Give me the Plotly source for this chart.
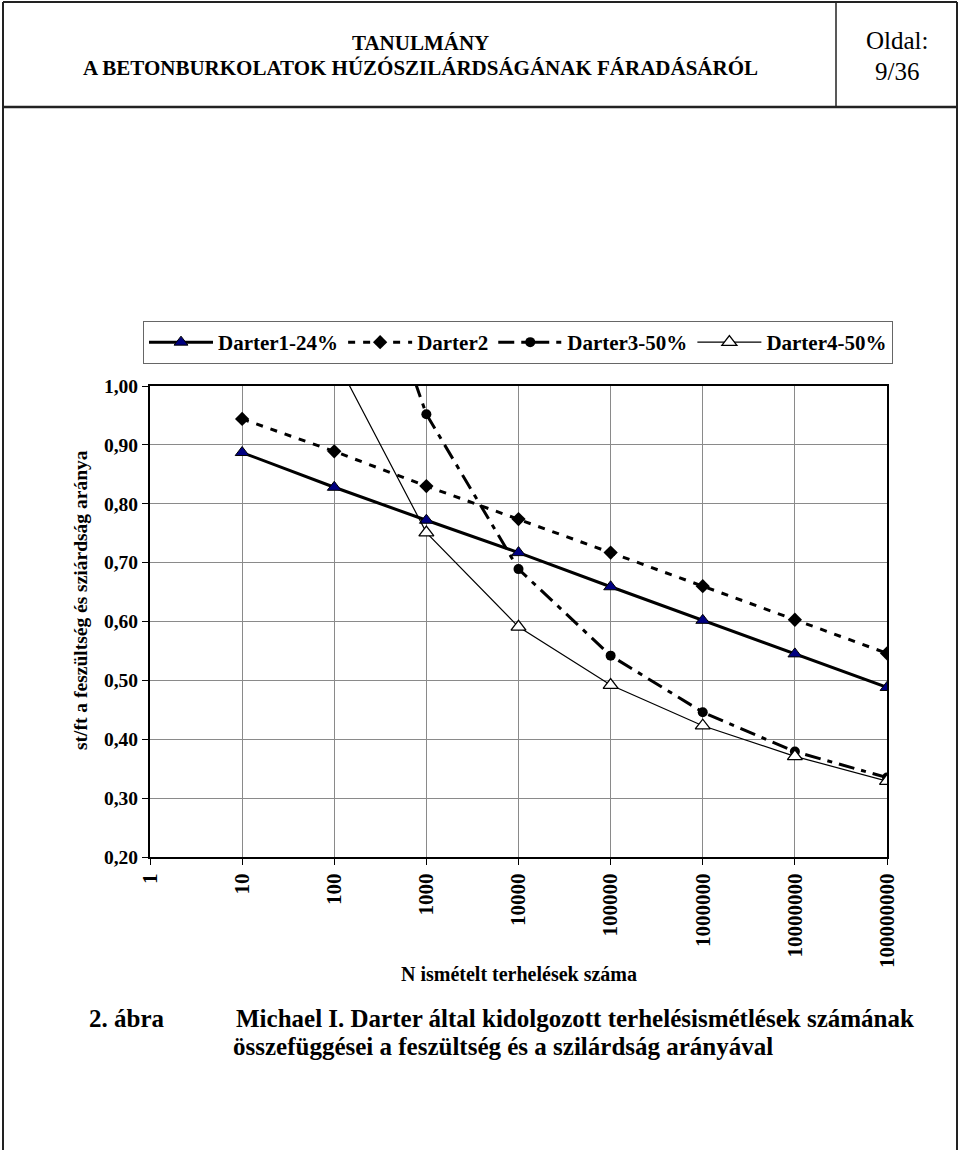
import plotly.graph_objects as go

# ---------------- data ----------------
x_tick_vals = [1, 10, 100, 1000, 10000, 100000, 1000000, 10000000, 100000000]
x_tick_labels = ["1", "10", "100", "1000", "10000", "100000", "1000000", "10000000", "100000000"]
y_tick_vals = [0.2, 0.3, 0.4, 0.5, 0.6, 0.7, 0.8, 0.9, 1.0]
y_tick_labels = ["0,20", "0,30", "0,40", "0,50", "0,60", "0,70", "0,80", "0,90", "1,00"]

darter1_N = [10, 100, 1000, 10000, 100000, 1000000, 10000000, 100000000]
darter1 = [0.887, 0.828, 0.772, 0.717, 0.659, 0.602, 0.545, 0.488]

darter2_N = [10, 100, 1000, 10000, 100000, 1000000, 10000000, 100000000]
darter2 = [0.944, 0.889, 0.830, 0.774, 0.717, 0.660, 0.603, 0.546]

darter3_N = [100, 1000, 10000, 100000, 1000000, 10000000, 100000000]
darter3 = [1.40, 0.952, 0.689, 0.542, 0.446, 0.379, 0.335]

darter4_N = [100, 1000, 10000, 100000, 1000000, 10000000, 100000000]
darter4 = [1.05, 0.751, 0.591, 0.492, 0.423, 0.371, 0.329]

series_names = ["Darter1-24%", "Darter2", "Darter3-50%", "Darter4-50%"]

# ---------------- figure ----------------
W, H = 960, 1150
SERIF = "Liberation Serif, Times New Roman, serif"

def px(x):
    return x / W

def py(y):
    return 1 - y / H

fig = go.Figure()

fig.add_trace(go.Scatter(
    x=darter1_N, y=darter1, name=series_names[0], mode="lines+markers",
    line=dict(color="black", width=3),
    marker=dict(symbol="triangle-up", size=12, color="#000080",
                line=dict(color="black", width=1)),
))
fig.add_trace(go.Scatter(
    x=darter2_N, y=darter2, name=series_names[1], mode="lines+markers",
    line=dict(color="black", width=3, dash="7px,8px"),
    marker=dict(symbol="diamond", size=11, color="black"),
))
fig.add_trace(go.Scatter(
    x=darter3_N, y=darter3, name=series_names[2], mode="lines+markers",
    line=dict(color="black", width=3, dash="16px,7px,5px,7px"),
    marker=dict(symbol="circle", size=10, color="black"),
))
fig.add_trace(go.Scatter(
    x=darter4_N, y=darter4, name=series_names[3], mode="lines+markers",
    line=dict(color="black", width=1.2),
    marker=dict(symbol="triangle-up", size=13, color="white",
                line=dict(color="black", width=1.3)),
))

x_left, x_right = 150, 887
y_top, y_bottom = 386, 857

fig.update_xaxes(
    type="log", range=[0, 8], automargin=False,
    domain=[px(x_left), px(x_right)],
    tickmode="array", tickvals=x_tick_vals, ticktext=x_tick_labels,
    tickangle=-90, ticks="outside", ticklen=6, tickcolor="black",
    tickfont=dict(family=SERIF, size=21, color="black", weight="bold"),
    showgrid=True, gridcolor="#8a8a8a", gridwidth=1,
    showline=True, linecolor="black", linewidth=2, mirror=True,
    zeroline=False,
)
fig.update_yaxes(
    range=[0.2, 1.0], automargin=False,
    domain=[py(y_bottom), py(y_top)],
    tickmode="array", tickvals=y_tick_vals, ticktext=y_tick_labels,
    ticks="outside", ticklen=6, tickcolor="black",
    tickfont=dict(family=SERIF, size=19.5, color="black", weight="bold"),
    showgrid=True, gridcolor="#8a8a8a", gridwidth=1,
    showline=True, linecolor="black", linewidth=2, mirror=True,
    zeroline=False,
)

shapes = []
border = dict(color="#222222", width=2)
# page frame
shapes.append(dict(type="line", xref="paper", yref="paper", x0=px(3), x1=px(957), y0=py(2), y1=py(2), line=border))
shapes.append(dict(type="line", xref="paper", yref="paper", x0=px(3), x1=px(957), y0=py(107), y1=py(107), line=dict(color="#222222", width=2.5)))
shapes.append(dict(type="line", xref="paper", yref="paper", x0=px(3), x1=px(3), y0=py(2), y1=py(1150), line=border))
shapes.append(dict(type="line", xref="paper", yref="paper", x0=px(957), x1=px(957), y0=py(2), y1=py(1150), line=border))
shapes.append(dict(type="line", xref="paper", yref="paper", x0=px(836), x1=px(836), y0=py(2), y1=py(107), line=dict(color="#222222", width=1.5)))

annotations = []
def txt(text, x, y, size, bold=False, xanchor="center", angle=0, family=SERIF):
    annotations.append(dict(
        text=text, x=px(x), y=py(y), xref="paper", yref="paper",
        xanchor=xanchor, yanchor="middle", showarrow=False, textangle=angle,
        font=dict(family=family, size=size, color="black", weight="bold" if bold else "normal"),
    ))

txt("TANULMÁNY", 420, 43, 21, bold=True)
txt("A BETONBURKOLATOK HÚZÓSZILÁRDSÁGÁNAK FÁRADÁSÁRÓL", 420, 68, 21, bold=True)
txt("Oldal:", 897, 40, 25)
txt("9/36", 897, 72, 25)

txt("st/ft a feszültség és sziárdság aránya", 80, 600, 19.5, bold=True, angle=-90)
txt("N ismételt terhelések száma", 519, 974, 20, bold=True)

txt("2. ábra", 87, 1018, 25, bold=True, xanchor="left")
txt("Michael I. Darter által kidolgozott terhelésismétlések számának", 234, 1018, 25, bold=True, xanchor="left")
txt("összefüggései a feszültség és a szilárdság arányával", 231, 1046, 25, bold=True, xanchor="left")

fig.update_layout(
    width=W, height=H,
    margin=dict(l=0, r=0, t=0, b=0, autoexpand=False),
    paper_bgcolor="white", plot_bgcolor="white",
    shapes=shapes, annotations=annotations,
    showlegend=True,
    legend=dict(
        orientation="h", x=px(143), y=py(321), xanchor="left", yanchor="top",
        bordercolor="#666666", borderwidth=1, bgcolor="white",
        itemwidth=64,
        font=dict(family=SERIF, size=21, color="black", weight="bold"),
    ),
)

fig.write_html("out.html", config={"displayModeBar": False},
               post_script="document.body.style.margin='0';")
